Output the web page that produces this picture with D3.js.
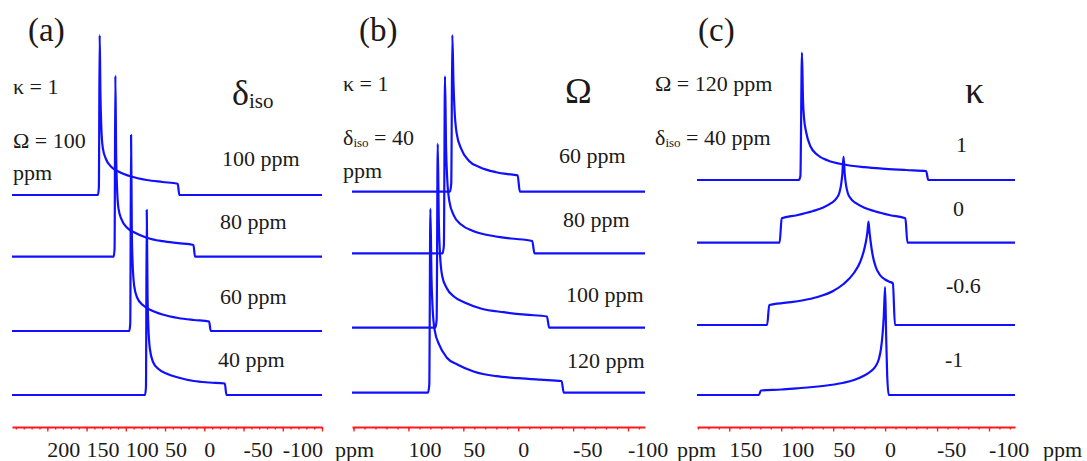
<!DOCTYPE html>
<html><head><meta charset="utf-8">
<script src="https://cdn.jsdelivr.net/npm/d3@7"></script>
<style>
body{margin:0;background:#fff}
svg{display:block}
svg text{font-family:"Liberation Serif","Tinos","Times New Roman","DejaVu Serif",serif !important;fill:#1c1a18}
</style>
</head><body>
<svg id="chart" width="1087" height="461" font-family="Liberation Serif, Times New Roman, DejaVu Serif, serif"></svg>
<script>
// ---------------- DATA ----------------
const panelLabels = ["(a)", "(b)", "(c)"];
const tickLabelsA = [200, 150, 100, 50, 0, -50, -100];
const tickLabelsB = [100, 50, 0, -50, -100];
const tickLabelsC = [150, 100, 50, 0, -50, -100];
const seriesLabelsA = ["100 ppm", "80 ppm", "60 ppm", "40 ppm"];
const seriesLabelsB = ["60 ppm", "80 ppm", "100 ppm", "120 ppm"];
const seriesLabelsC = ["1", "0", "-0.6", "-1"];

// spectra: [ppm, intensity]
const spectraA = [
  [[245,0],[135.5,0],[134.3,8],[133.3,160],[132.3,100],[131.3,70],[129.3,47],[125.3,36],[118.3,28],[108.3,23],[93.3,18.5],[73.3,15],[53.3,13],[33.8,11.2],[31.8,0],[-150,0]],
  [[245,0],[115.5,0],[114.3,8],[113.3,181],[112.3,102],[111.3,72],[109.3,48],[105.3,37],[98.3,29],[88.3,24],[73.3,19],[53.3,15.5],[33.3,13.5],[13.8,11.7],[11.8,0],[-150,0]],
  [[245,0],[95.5,0],[94.3,8],[93.3,196],[92.3,98],[91.3,68],[89.3,45],[85.3,33],[78.3,26],[68.3,21],[53.3,16.5],[33.3,13],[13.3,11],[-6.2,9.5],[-8.2,0],[-150,0]],
  [[245,0],[75.5,0],[74.3,8],[73.3,185],[72.3,100],[71.3,70],[69.3,46],[65.3,33],[58.3,26],[48.3,21.5],[33.3,17.5],[13.3,14],[-6.7,12.5],[-26.2,11.5],[-28.2,0],[-150,0]]
];
const spectraB = [
  [[151.4,0],[62.2,0],[61,8],[60,156.7],[59,110],[58,82],[56,58],[52,43],[45,31],[35,24.5],[20,19.5],[5,17],[0.5,16.3],[-1.5,0],[-115.5,0]],
  [[151.4,0],[68.9,0],[67.7,8],[66.7,177],[65.7,105],[64.7,75],[62.7,52],[58.7,38],[51.7,28.5],[41.7,22.5],[26.7,18],[6.7,14.8],[-12.8,12.3],[-14.8,0],[-115.5,0]],
  [[151.4,0],[75.5,0],[74.3,8],[73.3,184],[72.3,105],[71.3,75],[69.3,52],[65.3,40],[58.3,31],[48.3,25],[33.3,19],[13.3,15.5],[-6.7,13],[-26.2,11.2],[-28.2,0],[-115.5,0]],
  [[151.4,0],[82.2,0],[81,8],[80,184],[79,115],[78,85],[76,62],[72,48],[65,35],[55,28],[40,21],[20,16.5],[0,14.5],[-20,13],[-39.5,11.7],[-41.5,0],[-115.5,0]]
];
const spectraC = [
  [[181,0],[83,0],[81.5,4],[80,127.3],[79,80],[78,62],[76,48],[72,34],[65,25],[55,19.5],[40,15.5],[20,12.8],[0,11.2],[-20,10],[-39.5,9],[-41.5,0],[-125,0]],
  [[181,0],[101.5,0],[99.5,24.4],[85,27.5],[70,31.5],[60,35],[52,39.5],[47,44],[44,50],[42.5,57],[41.2,68],[40,86],[38.8,68],[37.5,57],[36,50],[33,44],[28,39.5],[20,35],[10,31.5],[-5,27.5],[-19.5,24.4],[-21.5,0],[-125,0]],
  [[181,0],[113.5,0],[111.5,20],[95,22.3],[80,24.5],[65,28],[50,34],[40,41],[30,52],[24,63],[20,76],[18,86],[17,93],[16,103.3],[15,93],[14,84],[12,70],[9,58],[5,50],[0,45.5],[-4,43.3],[-7.5,41.7],[-9.5,0],[-125,0]],
  [[181,0],[121.5,0],[119.5,4.5],[100,5.5],[85,6.7],[70,8],[53,10],[40,12.3],[30,15],[20,19.5],[14,23.5],[9,29],[6,36],[4,46],[2.5,60],[1.3,78],[0,108],[-1,60],[-2,20],[-3.5,0],[-125,0]]
];

// ---------------- LAYOUT ----------------
const panels = [
  {domain:[245,-150], range:[12,322], baselines:[195,256.7,331,395],
   spectra:spectraA, ticks:tickLabelsA, labels:seriesLabelsA,
   labelPos:[[222,166],[220,229],[220,304],[218,367]], unitX:335, tagX:28},
  {domain:[151.4,-115.5], range:[352,645], baselines:[191.7,253.3,327.7,392.7],
   spectra:spectraB, ticks:tickLabelsB, labels:seriesLabelsB,
   labelPos:[[559,163],[563,227],[566,302],[567,368]], unitX:677, tagX:359},
  {domain:[181,-125], range:[697,1015], baselines:[180,242.7,325,395],
   spectra:spectraC, ticks:tickLabelsC, labels:seriesLabelsC,
   labelPos:[[956,152],[953,216],[946,293],[945,367]], unitX:1043, tagX:698}
];
const axisY = 427, tickLabelY = 457;
const FS = 22;
const SERIF = '"Liberation Serif","Tinos","Times New Roman","DejaVu Serif",serif';

const svg = d3.select("#chart");
const hScale = d3.scaleLinear().domain([0, 200]).range([0, 200]);

function txt(parent, x, y, size, s) {
  return parent.append("text").attr("x", x).attr("y", y)
    .attr("font-size", size).style("font-family", SERIF).text(s);
}

panels.forEach((p, i) => {
  const x = d3.scaleLinear().domain(p.domain).range(p.range);
  const g = svg.append("g");

  // spectra
  p.spectra.forEach((s, k) => {
    const base = p.baselines[k];
    const line = d3.line()
      .x(d => x(d[0]))
      .y(d => base - hScale(d[1]))
      .curve(d3.curveMonotoneX);
    g.append("path").datum(s).attr("d", line)
      .attr("fill", "none").attr("stroke", "#1010ff")
      .attr("stroke-width", 2.2).attr("stroke-linejoin", "round");
  });

  // series labels
  p.labels.forEach((t, k) => txt(g, p.labelPos[k][0], p.labelPos[k][1], FS, t));

  // axis
  const lo = Math.min(...p.domain), hi = Math.max(...p.domain);
  const minor = d3.range(Math.ceil(lo / 10) * 10, hi, 10);
  const major = minor.filter(v => v % 50 === 0);
  const ax1 = g.append("g").attr("transform", `translate(0,${axisY})`)
    .call(d3.axisBottom(x).tickValues(minor).tickSize(2.5).tickSizeOuter(0).tickFormat(""));
  const ax2 = g.append("g").attr("transform", `translate(0,${axisY})`)
    .call(d3.axisBottom(x).tickValues(major).tickSize(4.5).tickSizeOuter(0).tickFormat(""));
  [ax1, ax2].forEach(a => {
    a.select(".domain").attr("stroke", "#ff1a1a").attr("stroke-width", 2);
    a.selectAll(".tick line").attr("stroke", "#ff1a1a").attr("stroke-width", 1.3);
  });
  ax2.select(".domain").remove();

  p.ticks.forEach(v => txt(g, x(v), tickLabelY, FS, v).attr("text-anchor", "start"));
  txt(g, p.unitX, tickLabelY, FS, "ppm");

  // panel tag
  txt(g, p.tagX, 41, 33, panelLabels[i]);
});

// ---------- annotations ----------
// panel a
txt(svg, 13, 94, FS, "κ = 1");
txt(svg, 13, 148, FS, "Ω = 100");
txt(svg, 13, 180, FS, "ppm");
{
  const t = txt(svg, 232, 105, 36, "");
  t.append("tspan").text("δ");
  t.append("tspan").attr("font-size", 21).attr("dy", 3).text("iso");
}
// panel b
txt(svg, 343, 91, FS, "κ = 1");
{
  const t = txt(svg, 343, 145, FS, "");
  t.append("tspan").text("δ");
  t.append("tspan").attr("font-size", 13).attr("dy", 2).text("iso");
  t.append("tspan").attr("dy", -2).text(" = 40");
}
txt(svg, 343, 178, FS, "ppm");
txt(svg, 565, 103, 36, "Ω");
// panel c
txt(svg, 655, 91, FS, "Ω = 120 ppm");
{
  const t = txt(svg, 655, 145, FS, "");
  t.append("tspan").text("δ");
  t.append("tspan").attr("font-size", 13).attr("dy", 2).text("iso");
  t.append("tspan").attr("dy", -2).text(" = 40 ppm");
}
txt(svg, 965, 103, 38, "κ");
</script>
</body></html>
